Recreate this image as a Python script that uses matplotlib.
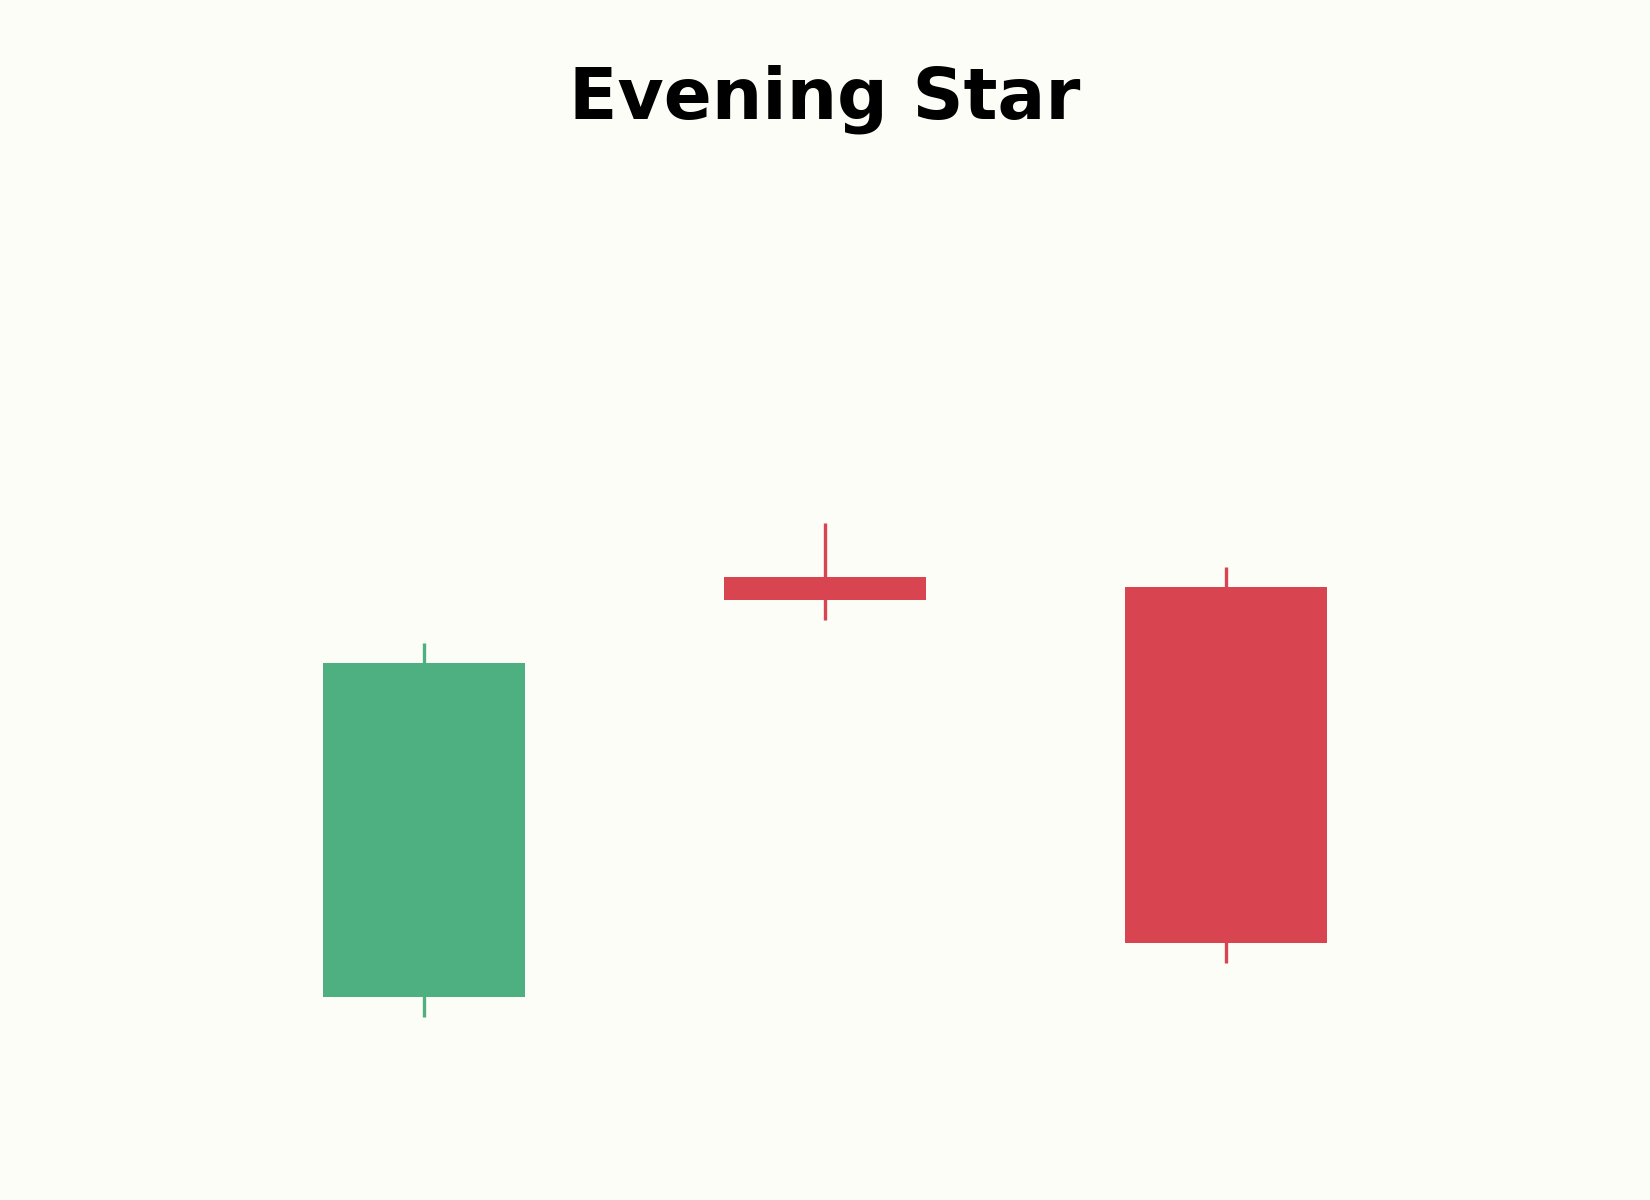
"""
Evening star candlestick pattern.
"""

import numpy as np
import matplotlib
matplotlib.use("Agg")
import matplotlib.pyplot as plt

days = [0, 1, 2]
opens = [100.0, 112.6, 112.3]
highs = [110.6, 114.2, 112.9]
lows = [99.4, 111.3, 101.0]
closes = [110.0, 111.9, 101.6]

up_color = '#4EB080'
down_color = '#D84551'
bg = '#FDFDF8'

fig = plt.figure(figsize=(11, 8), dpi=150, facecolor=bg)
ax = fig.add_axes([0, 0, 1, 1])
ax.set_facecolor(bg)

o = np.array(opens)
c = np.array(closes)
colors = [up_color if cc >= oo else down_color for oo, cc in zip(o, c)]

# wicks first, bodies on top
ax.vlines(days, lows, highs, colors=colors, linewidth=1.6, zorder=1)
ax.bar(days, np.abs(c - o), bottom=np.minimum(o, c), width=0.505,
       color=colors, zorder=2)

ax.set_xlim(-1.057, 3.058)
ax.set_ylim(93.9, 129.9)
ax.axis('off')

fig.text(0.5, 0.917, 'Evening Star', ha='center', va='center',
         fontsize=34, fontweight='bold', color='black')

fig.savefig('out.png', facecolor=bg)
